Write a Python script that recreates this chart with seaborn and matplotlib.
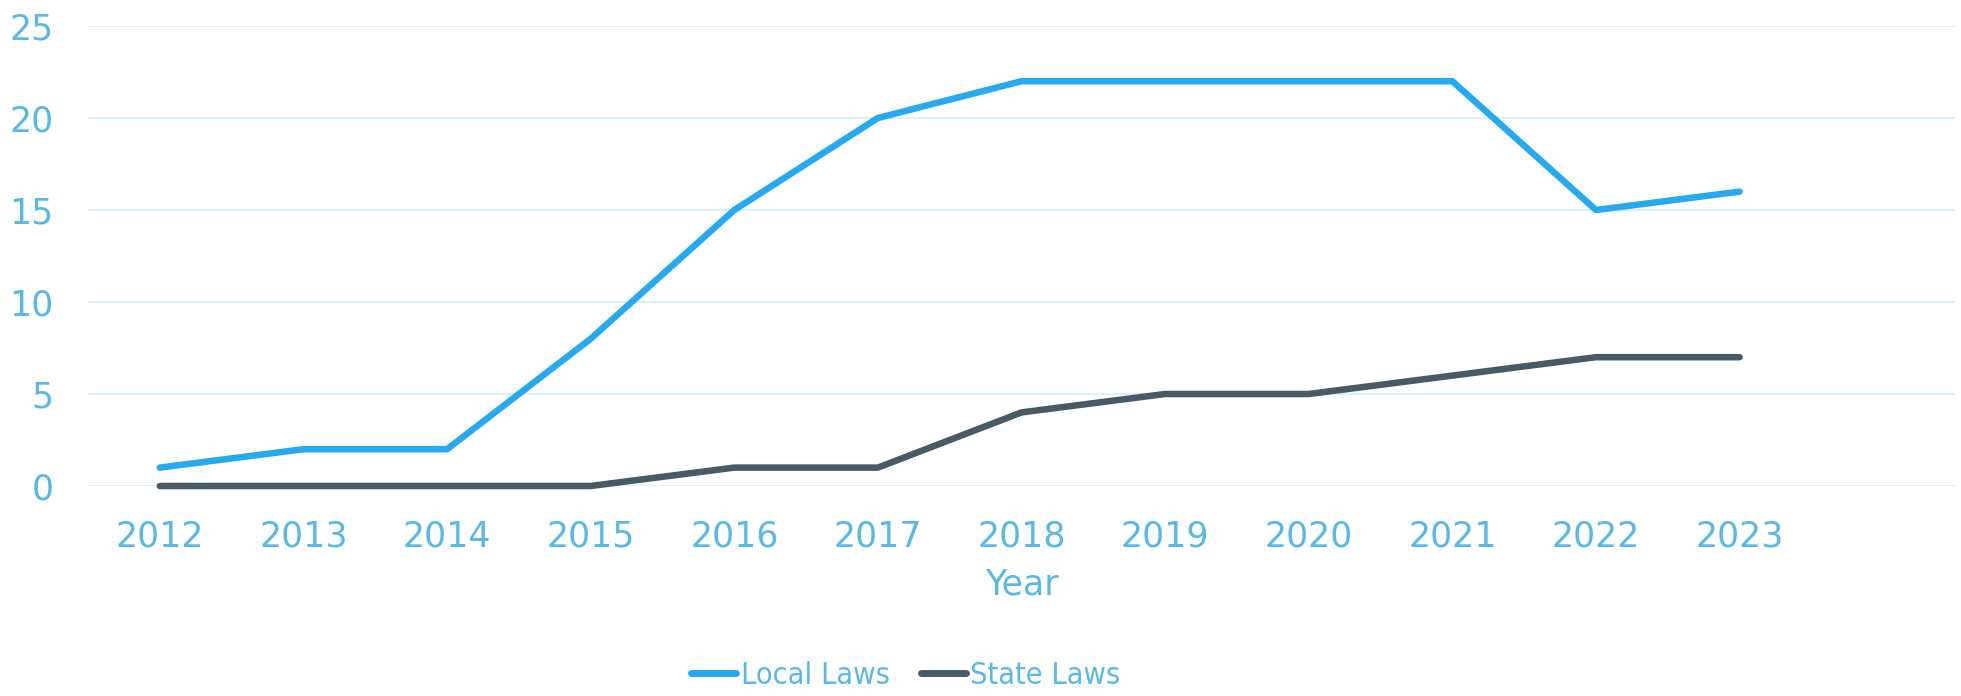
import numpy as np
import pandas as pd
import seaborn as sns
import matplotlib.pyplot as plt
from matplotlib.font_manager import FontProperties, findfont

# Data
years = [2012, 2013, 2014, 2015, 2016, 2017, 2018, 2019, 2020, 2021, 2022, 2023]
local_laws = [1, 2, 2, 8, 15, 20, 22, 22, 22, 22, 15, 16]
state_laws = [0, 0, 0, 0, 1, 1, 4, 5, 5, 6, 7, 7]
series_names = ["Local Laws", "State Laws"]
y_ticks = [0, 5, 10, 15, 20, 25]

textColor = "#5ab8e3"
gridColor = "#d9eff9"
lineColors = {"Local Laws": "#27a9ef", "State Laws": "#485a66"}

lawsDF = pd.DataFrame({
    "Year": years * 2,
    "Laws": local_laws + state_laws,
    "Type": [series_names[0]] * len(years) + [series_names[1]] * len(years),
})

sns.set_style("white")
plt.rcParams['font.family'] = ['DejaVu Sans']

fig = plt.figure(figsize=(19.61, 6.96), dpi=100)
ax = fig.add_axes([88 / 1961, 1 - 486 / 696, (1955 - 88) / 1961, 460 / 696])

sns.lineplot(data=lawsDF, x="Year", y="Laws", hue="Type", palette=lineColors,
             linewidth=4.7, ax=ax, legend=False, solid_capstyle="round")
for ln in ax.get_lines():
    ln.set_clip_on(False)

ax.set_xlim(2011.5, 2024.5)
ax.set_ylim(0, 25)
ax.set_xticks(years)
ax.set_xticklabels([str(y) for y in years])
ax.set_yticks(y_ticks)
ax.grid(axis="y", color=gridColor, linewidth=1.5)
ax.set_axisbelow(True)
for s in ax.spines.values():
    s.set_visible(False)

ax.tick_params(axis="both", length=0, labelsize=25, labelcolor=textColor)
ax.tick_params(axis="x", pad=24)
ax.tick_params(axis="y", pad=25)

ax.set_ylabel("")
ax.set_xlabel("Year", fontsize=25, color=textColor)
ax.xaxis.set_label_coords(0.5, -0.215)
ax.xaxis.label.set_va("center")

# legend text is narrow in the original, use condensed face if there is one
legFont = FontProperties(family="DejaVu Sans", stretch="condensed")
if "Condensed" in findfont(legFont):
    legFont.set_size(22)
else:
    legFont = FontProperties(family="DejaVu Sans", size=19)

handles = [plt.Line2D([0], [0], color=lineColors[n], linewidth=5, solid_capstyle="round")
           for n in series_names]
leg = fig.legend(handles, series_names, loc="center", bbox_to_anchor=(906 / 1961, 1 - 675 / 696),
                 ncol=2, frameon=False, handlelength=1.48, handletextpad=0.15, columnspacing=1.0,
                 prop=legFont)
for t in leg.get_texts():
    t.set_color(textColor)

fig.savefig("out.png", dpi=100)
